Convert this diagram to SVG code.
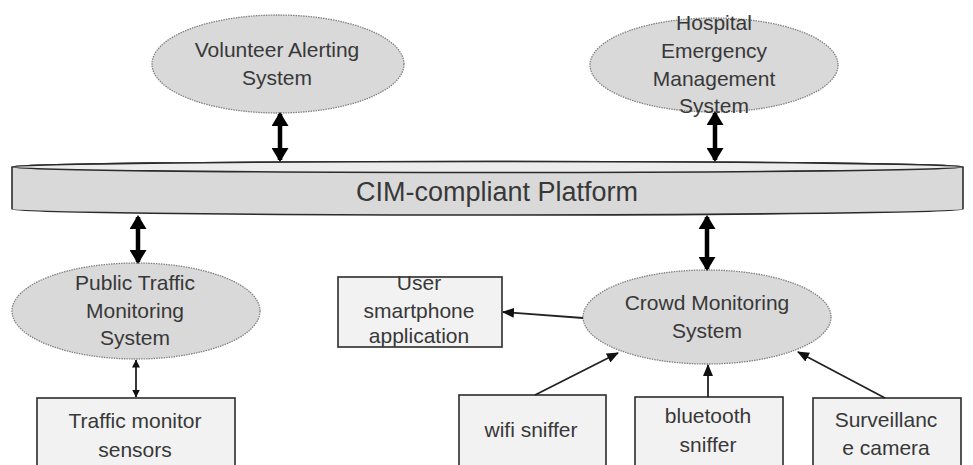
<svg xmlns="http://www.w3.org/2000/svg" width="973" height="465" viewBox="0 0 973 465">
<defs>
<marker id="bigS" markerUnits="userSpaceOnUse" viewBox="0 0 14 17" refX="12" refY="8.5" markerWidth="14" markerHeight="17" orient="auto-start-reverse"><path d="M0,0 L14,8.5 L0,17 Z" fill="#000"/></marker>
<marker id="sm" markerUnits="userSpaceOnUse" viewBox="0 0 12 10" refX="11" refY="5" markerWidth="12" markerHeight="10" orient="auto-start-reverse"><path d="M0,0 L12,5 L0,10 Z" fill="#111"/></marker>
<marker id="tiny" markerUnits="userSpaceOnUse" viewBox="0 0 8 8" refX="7.5" refY="4" markerWidth="8" markerHeight="8" orient="auto-start-reverse"><path d="M0,0 L8,4 L0,8 Z" fill="#111"/></marker>
</defs>
<style>
.ell{fill:#d9d9d9;stroke:#808080;stroke-width:1.3;stroke-dasharray:1.5 1}
.box{fill:#f2f2f2;stroke:#2b2b2b;stroke-width:1.6}
.t{font-family:"Liberation Sans",Arial,sans-serif;font-size:21px;fill:#383838;text-anchor:middle}
.big{stroke:#000;stroke-width:4.5;fill:none}
.thin{stroke:#222;stroke-width:1.8;fill:none}
</style>
<rect width="973" height="465" fill="#fff"/>
<g id="platform">
<path d="M12,167 A475.5,5.5 0 0 1 963,167 L963,209 A475.5,6 0 0 1 12,209 Z" fill="#d9d9d9" stroke="#2b2b2b" stroke-width="1.6"/>
<ellipse cx="487.5" cy="167" rx="475.5" ry="5.5" fill="#ececec" stroke="#2b2b2b" stroke-width="1.6"/>
<text class="t" x="497" y="201" style="font-size:27px">CIM-compliant Platform</text>
</g>
<g id="volunteer">
<ellipse class="ell" cx="278" cy="64" rx="126" ry="49"/>
<text class="t" x="277" y="57">Volunteer Alerting</text>
<text class="t" x="277" y="85">System</text>
</g>
<g id="hospital">
<ellipse class="ell" cx="714" cy="65" rx="124" ry="47"/>
<text class="t" x="714" y="30">Hospital</text>
<text class="t" x="714" y="58">Emergency</text>
<text class="t" x="714" y="86">Management</text>
<text class="t" x="714" y="113">System</text>
</g>
<g id="public-traffic">
<ellipse class="ell" cx="136" cy="311" rx="124" ry="48"/>
<text class="t" x="135" y="290">Public Traffic</text>
<text class="t" x="135" y="318">Monitoring</text>
<text class="t" x="135" y="345">System</text>
</g>
<g id="traffic-sensors">
<rect class="box" x="37" y="398" width="198" height="68"/>
<text class="t" x="135" y="428">Traffic monitor</text>
<text class="t" x="135" y="457">sensors</text>
</g>
<g id="smartphone">
<rect class="box" x="338" y="277" width="164" height="70"/>
<text class="t" x="419" y="290">User</text>
<text class="t" x="419" y="318">smartphone</text>
<text class="t" x="419" y="343">application</text>
</g>
<g id="crowd">
<ellipse class="ell" cx="707" cy="317" rx="124" ry="47"/>
<text class="t" x="707" y="310">Crowd Monitoring</text>
<text class="t" x="707" y="338">System</text>
</g>
<g id="wifi">
<rect class="box" x="459" y="395" width="147" height="71"/>
<text class="t" x="531" y="437">wifi sniffer</text>
</g>
<g id="bluetooth">
<rect class="box" x="635" y="397" width="148" height="69"/>
<text class="t" x="708" y="423">bluetooth</text>
<text class="t" x="708" y="452">sniffer</text>
</g>
<g id="surveillance">
<rect class="box" x="813" y="398" width="148" height="68"/>
<text class="t" x="886" y="427">Surveillanc</text>
<text class="t" x="886" y="455">e camera</text>
</g>
<g id="connectors">
<line class="big" x1="280" y1="114" x2="280" y2="160" marker-start="url(#bigS)" marker-end="url(#bigS)"/>
<line class="big" x1="715" y1="113" x2="715" y2="160" marker-start="url(#bigS)" marker-end="url(#bigS)"/>
<line class="big" x1="138" y1="217" x2="138" y2="262" marker-start="url(#bigS)" marker-end="url(#bigS)"/>
<line class="big" x1="707" y1="217" x2="707" y2="269" marker-start="url(#bigS)" marker-end="url(#bigS)"/>
<line class="thin" x1="136" y1="360" x2="136" y2="397" marker-start="url(#tiny)" marker-end="url(#tiny)"/>
<line class="thin" x1="583" y1="318" x2="503" y2="312" marker-end="url(#sm)"/>
<line class="thin" x1="535" y1="395" x2="618" y2="353" marker-end="url(#sm)"/>
<line class="thin" x1="708" y1="397" x2="708" y2="365" marker-end="url(#sm)"/>
<line class="thin" x1="885" y1="398" x2="798" y2="352" marker-end="url(#sm)"/>
</g>
</svg>
